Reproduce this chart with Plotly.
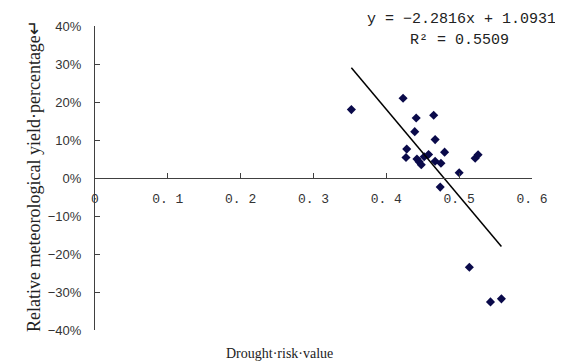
import plotly.graph_objects as go

# Data
risk_values = [0.352, 0.423, 0.441, 0.465, 0.439, 0.467, 0.428, 0.480, 0.427,
               0.442, 0.445, 0.448, 0.452, 0.458, 0.467, 0.475, 0.500, 0.522,
               0.526, 0.474, 0.514, 0.543, 0.558]
yield_pct = [0.180, 0.210, 0.158, 0.165, 0.122, 0.101, 0.076, 0.068, 0.054,
             0.050, 0.043, 0.035, 0.056, 0.062, 0.044, 0.039, 0.014, 0.052,
             0.061, -0.024, -0.235, -0.326, -0.318]

slope = -2.2816
intercept = 1.0931
r_squared = 0.5509

x_tick_vals = [0, 0.1, 0.2, 0.3, 0.4, 0.5, 0.6]
x_tick_text = ["0", "0. 1", "0. 2", "0. 3", "0. 4", "0. 5", "0. 6"]
y_tick_vals = [-0.4, -0.3, -0.2, -0.1, 0, 0.1, 0.2, 0.3, 0.4]

trend_x = [min(risk_values), max(risk_values)]
trend_y = [slope * v + intercept for v in trend_x]

fig = go.Figure()
fig.add_trace(go.Scatter(
    x=risk_values, y=yield_pct, mode="markers",
    marker=dict(symbol="diamond", size=7, color="#0a0a4a"),
    showlegend=False, hoverinfo="skip"))
fig.add_trace(go.Scatter(
    x=trend_x, y=trend_y, mode="lines",
    line=dict(color="black", width=1.5),
    showlegend=False, hoverinfo="skip"))

# page has an 8px body margin; figure is sized to fit the 563x363 window
W, H = 555, 355
L, R, T, B = 87, 31, 18, 33
axis_color = "#404040"
fig.update_layout(
    width=W, height=H,
    margin=dict(l=L, r=R, t=T, b=B),
    paper_bgcolor="white", plot_bgcolor="white",
    xaxis=dict(
        range=[0, 0.6], tickvals=x_tick_vals, ticktext=x_tick_text,
        showgrid=False, zeroline=False, showline=True, linecolor=axis_color,
        linewidth=1, ticks="inside", ticklen=5, tickcolor=axis_color,
        anchor="free", position=0.5, ticklabelstandoff=8,
        tickfont=dict(family="Liberation Mono", size=13, color="#333333")),
    yaxis=dict(
        range=[-0.4, 0.4], tickvals=y_tick_vals, tickformat=".0%",
        showgrid=False, zeroline=False, showline=True, linecolor=axis_color,
        linewidth=1, ticks="inside", ticklen=5, tickcolor=axis_color,
        ticklabelstandoff=10,
        tickfont=dict(family="Liberation Sans", size=13, color="#333333")),
    annotations=[
        dict(text="y = −2.2816x + 1.0931", x=461, y=19, xref="paper", yref="paper",
             showarrow=False, font=dict(family="Liberation Mono", size=15, color="#222222")),
        dict(text=f"R² = {r_squared}", x=459, y=41, xref="paper", yref="paper",
             showarrow=False, font=dict(family="Liberation Mono", size=15, color="#222222")),
        dict(text="Drought·risk·value", x=279, y=353, xref="paper", yref="paper",
             showarrow=False, font=dict(family="Liberation Serif", size=14, color="#222222")),
        dict(text="Relative meteorological yield·percentage↵", x=34, y=176,
             xref="paper", yref="paper", textangle=-90,
             showarrow=False, font=dict(family="Liberation Serif", size=18, color="#222222")),
    ],
)

# convert page-pixel positions of annotations into paper coordinates
pw = W - L - R
ph = H - T - B
for a in fig.layout.annotations:
    a.x = (a.x - 8 - L) / pw
    a.y = 1 - (a.y - 8 - T) / ph
    a.xanchor = "center"
    a.yanchor = "middle"

fig.write_html("out.html")
